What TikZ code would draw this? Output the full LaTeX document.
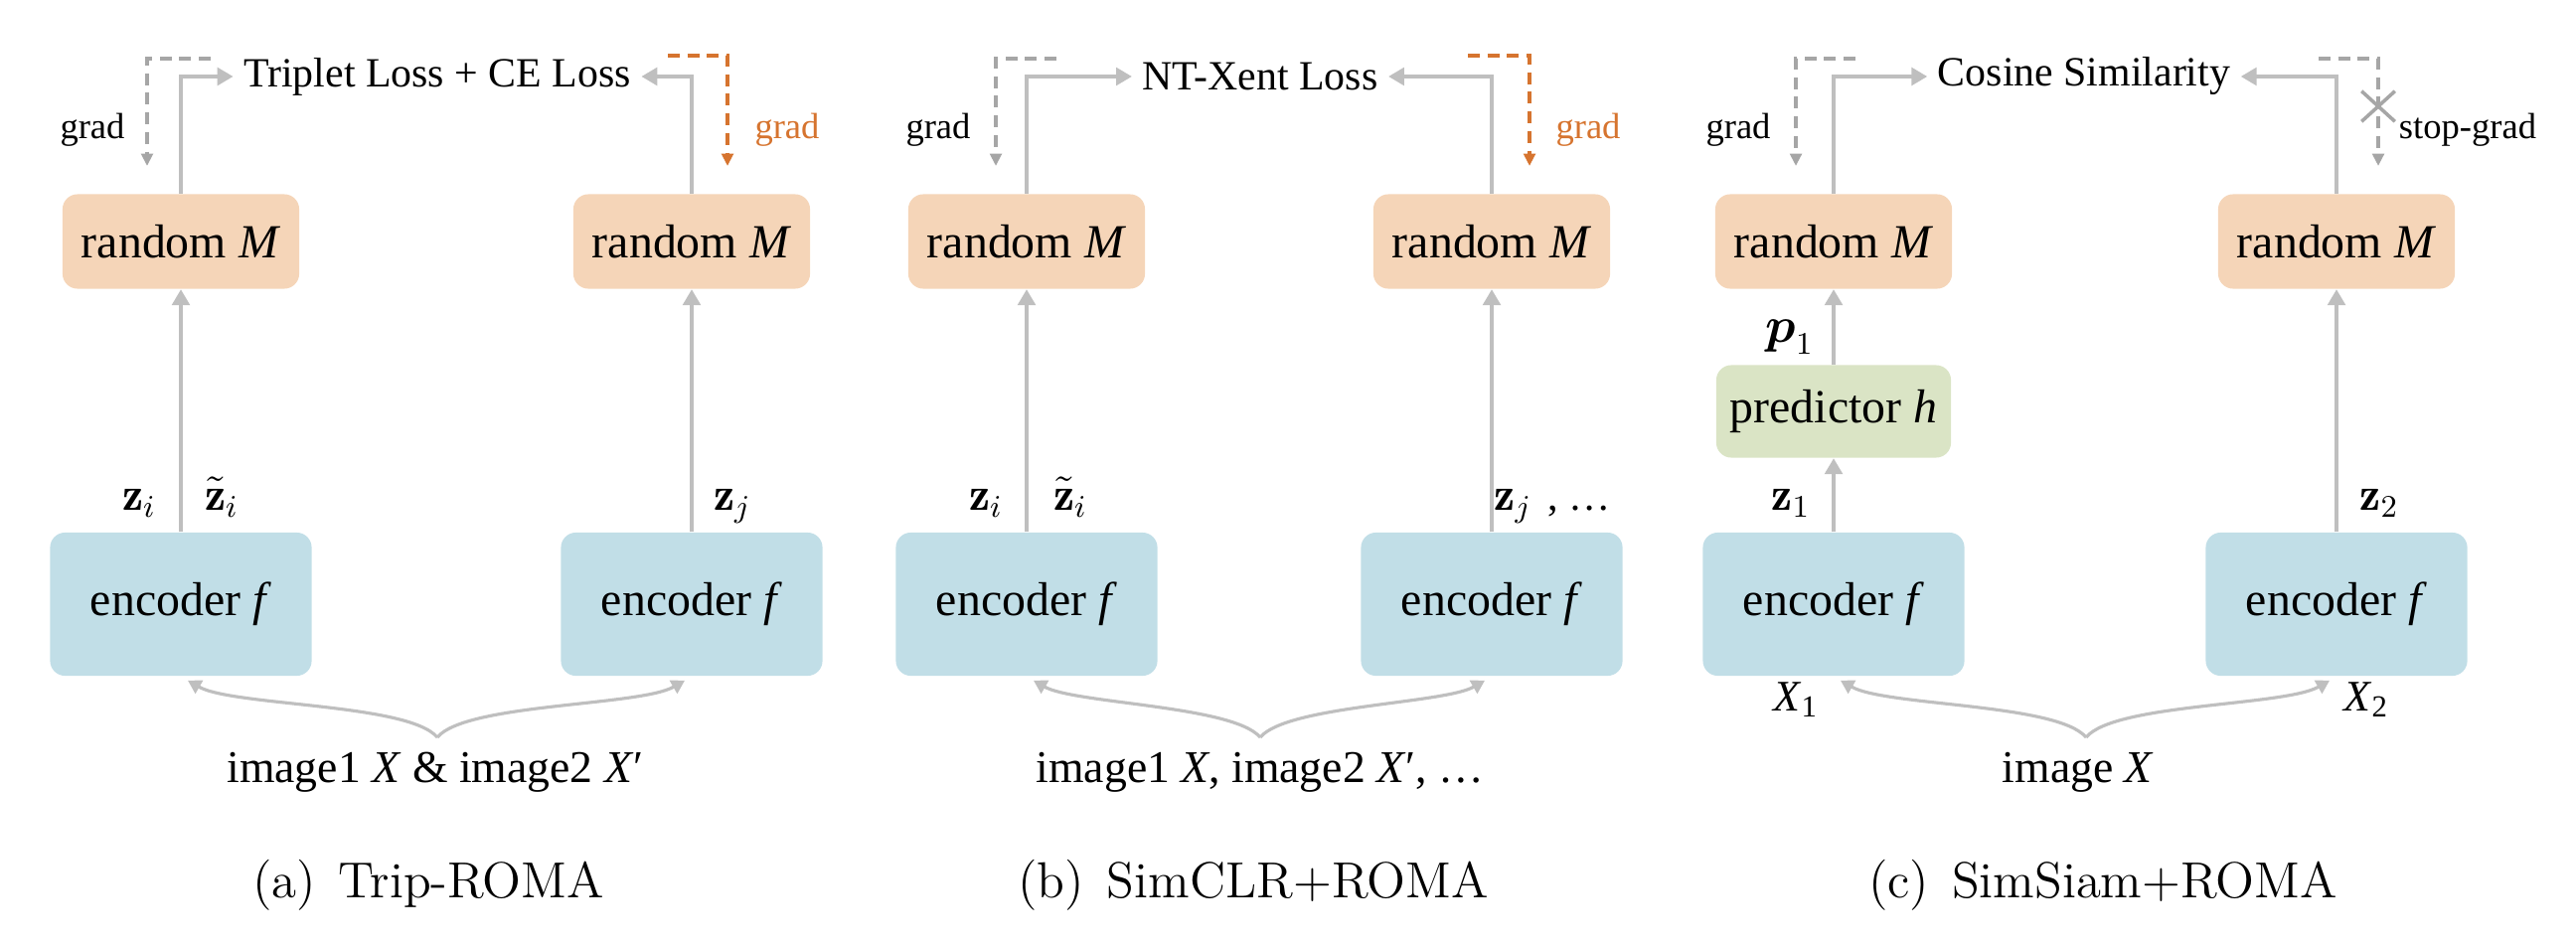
\documentclass[tikz,border=0pt]{standalone}
\usepackage{amsmath}
\usepackage{fontspec}
\usepackage{tikz}
\usetikzlibrary{arrows.meta, positioning, shapes.misc}

\newfontfamily\tnr{Liberation Serif}
\definecolor{rmorange}{HTML}{F5D5B8}
\definecolor{encblue}{HTML}{C1DEE7}
\definecolor{predgreen}{HTML}{DAE4C5}
\definecolor{flowgray}{HTML}{BFBFBF}
\definecolor{gradgray}{HTML}{A6A6A6}
\definecolor{gradorange}{HTML}{D6742F}

\begin{document}
\begin{tikzpicture}[
            x=0.01cm, y=0.01cm,
            rmbox/.style={rectangle, rounded corners=0.15cm, fill=rmorange, minimum width=2.38cm, minimum height=0.95cm, font=\tnr\fontsize{13.6}{16}\selectfont},
            encbox/.style={rmbox, fill=encblue, minimum width=2.63cm, minimum height=1.44cm},
            predbox/.style={rmbox, fill=predgreen, minimum width=2.36cm, minimum height=0.93cm},
            losstext/.style={font=\tnr\fontsize{11.9}{14}\selectfont, inner sep=0.1cm},
            gradtext/.style={font=\tnr\fontsize{10.4}{12}\selectfont, inner sep=0pt},
            vectext/.style={font=\fontsize{13.5}{16}\selectfont, inner sep=0pt, anchor=base},
            imgtext/.style={font=\tnr\fontsize{13}{16}\selectfont},
            subcap/.style={font=\fontsize{14.5}{17}\selectfont, anchor=base},
            fwdarrow/.style={draw=flowgray, line width=1pt, -{Triangle[length=4.5pt, width=5pt]}},
            splitarrow/.style={draw=flowgray, line width=0.9pt, -{Triangle[length=3.8pt, width=4.2pt]}, shorten >=0.08cm},
            gradarrow/.style={draw=gradgray, line width=1pt, dash pattern=on 3.4pt off 2.2pt, -{Triangle[length=3.5pt, width=3.3pt]}},
            ogradarrow/.style={gradarrow, draw=gradorange},
            >=Stealth]

        \useasboundingbox (0,0) rectangle (2592,-952);

        \node[rmbox] (rmA1) at (182,-243) {random \textit{M}};
        \node[rmbox] (rmA2) at (696,-243) {random \textit{M}};
        \node[encbox] (encA1) at (182,-608) {encoder \textit{f}};
        \node[encbox] (encA2) at (696,-608) {encoder \textit{f}};
        \node[losstext] (lossA) at (440,-77) {Triplet Loss + CE Loss};
        \node[gradtext] (gradA1) at (93,-131) {grad};
        \node[gradtext, text=gradorange] (gradA2) at (792,-131) {grad};
        \node[vectext] (zA1) at (140,-513) {$\mathbf{z}_i$};
        \node[vectext] (zA2) at (223,-513) {$\tilde{\mathbf{z}}_i$};
        \node[vectext] (zA3) at (737,-513) {$\mathbf{z}_j$};
        \node[imgtext] (imgA) at (438,-777) {image1 \textit{X} \& image2 \textit{X}′};
        \coordinate (splitA) at (440,-742);
        \coordinate (gA1) at (212,-59);
        \coordinate (gA1e) at (148,-167);
        \coordinate (gA2) at (672,-56);
        \coordinate (gA2e) at (732,-167);
        \node[subcap] (capA) at (431,-903) {(a)\hspace{0.45em}Trip-ROMA};

        \draw[fwdarrow] (encA1) -- (rmA1);
        \draw[fwdarrow] (encA2) -- (rmA2);
        \draw[fwdarrow] (rmA1.north) |- (lossA.west);
        \draw[fwdarrow] (rmA2.north) |- (lossA.east);
        \draw[gradarrow] (gA1) -| (gA1e);
        \draw[ogradarrow] (gA2) -| (gA2e);
        \draw[splitarrow] (splitA) .. controls +(130:0.45cm) and +(-30:0.6cm) .. (encA1.south);
        \draw[splitarrow] (splitA) .. controls +(50:0.45cm) and +(210:0.6cm) .. (encA2.south);

        \node[rmbox] (rmB1) at (1033,-243) {random \textit{M}};
        \node[rmbox] (rmB2) at (1501,-243) {random \textit{M}};
        \node[encbox] (encB1) at (1033,-608) {encoder \textit{f}};
        \node[encbox] (encB2) at (1501,-608) {encoder \textit{f}};
        \node[losstext] (lossB) at (1268,-77) {NT-Xent Loss};
        \node[gradtext] (gradB1) at (944,-131) {grad};
        \node[gradtext, text=gradorange] (gradB2) at (1598,-131) {grad};
        \node[vectext] (zB1) at (992,-513) {$\mathbf{z}_i$};
        \node[vectext] (zB2) at (1077,-513) {$\tilde{\mathbf{z}}_i$};
        \node[vectext] (zB3) at (1562,-513) {$\mathbf{z}_j$ {\tnr\fontsize{12}{14}\selectfont, …}};
        \node[imgtext] (imgB) at (1268,-777) {image1 \textit{X}, image2 \textit{X}′, …};
        \coordinate (splitB) at (1268,-742);
        \coordinate (gB1) at (1063,-59);
        \coordinate (gB1e) at (1002,-167);
        \coordinate (gB2) at (1477,-56);
        \coordinate (gB2e) at (1539,-167);
        \node[subcap] (capB) at (1261,-903) {(b)\hspace{0.45em}SimCLR+ROMA};

        \draw[fwdarrow] (encB1) -- (rmB1);
        \draw[fwdarrow] (encB2) -- (rmB2);
        \draw[fwdarrow] (rmB1.north) |- (lossB.west);
        \draw[fwdarrow] (rmB2.north) |- (lossB.east);
        \draw[gradarrow] (gB1) -| (gB1e);
        \draw[ogradarrow] (gB2) -| (gB2e);
        \draw[splitarrow] (splitB) .. controls +(130:0.42cm) and +(-30:0.55cm) .. (encB1.south);
        \draw[splitarrow] (splitB) .. controls +(50:0.42cm) and +(210:0.55cm) .. (encB2.south);

        \node[rmbox] (rmC1) at (1845,-243) {random \textit{M}};
        \node[rmbox] (rmC2) at (2351,-243) {random \textit{M}};
        \node[predbox] (predC) at (1845,-414) {predictor \textit{h}};
        \node[encbox] (encC1) at (1845,-608) {encoder \textit{f}};
        \node[encbox] (encC2) at (2351,-608) {encoder \textit{f}};
        \node[losstext] (cosC) at (2097,-77) {Cosine Similarity};
        \node[gradtext] (gradC1) at (1749,-131) {grad};
        \node[gradtext] (stopC) at (2483,-131) {stop-grad};
        \node[cross out, draw=gradgray, line width=1pt, minimum width=0.3cm, minimum height=0.27cm, inner sep=0pt] (crossC) at (2393,-107) {};
        \node[vectext] (pC) at (1801,-345) {$\boldsymbol{p}_1$};
        \node[vectext] (zC1) at (1802,-513) {$\mathbf{z}_1$};
        \node[vectext] (zC2) at (2394,-513) {$\mathbf{z}_2$};
        \node[vectext, font=\tnr\fontsize{12.5}{14}\selectfont] (xC1) at (1807,-715) {\textit{X}\textsubscript{1}};
        \node[vectext, font=\tnr\fontsize{12.5}{14}\selectfont] (xC2) at (2381,-715) {\textit{X}\textsubscript{2}};
        \node[imgtext] (imgC) at (2091,-777) {image \textit{X}};
        \coordinate (splitC) at (2099,-742);
        \coordinate (gC1) at (1867,-59);
        \coordinate (gC1e) at (1807,-167);
        \coordinate (gC2) at (2333,-59);
        \coordinate (gC2e) at (2393,-167);
        \node[subcap] (capC) at (2116,-903) {(c)\hspace{0.45em}SimSiam+ROMA};

        \draw[fwdarrow] (encC1) -- (predC);
        \draw[fwdarrow] (predC) -- (rmC1);
        \draw[fwdarrow] (encC2) -- (rmC2);
        \draw[fwdarrow] (rmC1.north) |- (cosC.west);
        \draw[fwdarrow] (rmC2.north) |- (cosC.east);
        \draw[gradarrow] (gC1) -| (gC1e);
        \draw[gradarrow] (gC2) -| (gC2e);
        \draw[splitarrow] (splitC) .. controls +(130:0.45cm) and +(-30:0.6cm) .. (encC1.south);
        \draw[splitarrow] (splitC) .. controls +(50:0.45cm) and +(210:0.6cm) .. (encC2.south);

    \end{tikzpicture}
\end{document}
